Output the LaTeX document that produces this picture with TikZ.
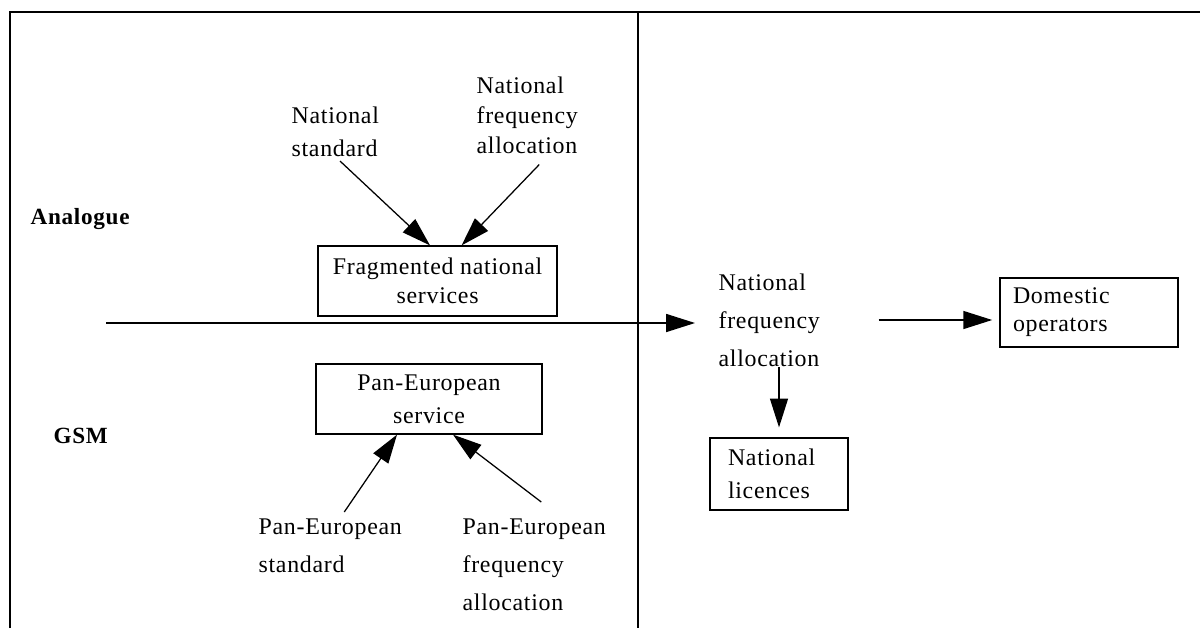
\documentclass[tikz,border=0pt]{standalone}
\usepackage{fontspec}
\setmainfont{Liberation Serif}[LetterSpace=3]
\usepackage{tikz}
\usetikzlibrary{positioning, calc, arrows.meta}

\begin{document}
\begin{tikzpicture}[>={Triangle[length=0.72cm, width=0.45cm]}, line width=0.9pt,
    box/.style={draw, inner sep=0pt, align=center, font=\fontsize{17}{21}\selectfont},
    txt/.style={anchor=north west, inner sep=0pt, align=left},
    head/.style={anchor=north west, inner sep=0pt, font=\fontsize{16.5}{18}\selectfont\bfseries}]
    \useasboundingbox (0,0) rectangle (30,-15.7);

    % Frame and divider
    \draw (0.25,-15.7) -- (0.25,-0.3) -- (30,-0.3);
    \draw (15.95,-0.3) -- (15.95,-15.7);

    % Row headings
    \node[head] (A) at (0.75,-5.2) {Analogue};
    \node[head] (G) at (1.325,-10.7) {GSM};

    % Analogue inputs
    \node[txt, font=\fontsize{17}{23.5}\selectfont] (nS) at (7.275,-2.65) {National\\standard};
    \node[txt, font=\fontsize{17}{21.5}\selectfont] (nF) at (11.9,-1.9) {National\\frequency\\allocation};

    % Fragmented national services Box
    \node[box, minimum width=5.975cm, minimum height=1.75cm] (F) at (10.94,-7.025) {Fragmented national\\services};

    % Pan-European service Box
    \node[box, minimum width=5.65cm, minimum height=1.75cm, font=\fontsize{17}{23.5}\selectfont] (P) at (10.725,-9.975) {Pan-European\\service};

    % GSM inputs
    \node[txt, font=\fontsize{17}{27.5}\selectfont] (pS) at (6.45,-12.95) {Pan-European\\standard};
    \node[txt, font=\fontsize{17}{27}\selectfont] (pF) at (11.55,-12.95) {Pan-European\\frequency\\allocation};

    % Right side
    \coordinate (in) at (2.65,-8.075);
    \node[txt, font=\fontsize{17}{27}\selectfont] (nM) at (17.95,-6.825) {National\\frequency\\allocation};
    \node[box, minimum width=4.45cm, minimum height=1.725cm, text width=3.8cm, inner xsep=0.325cm, align=left, font=\fontsize{17}{20}\selectfont] (D) at (27.225,-7.81) {Domestic\\operators};
    \node[box, minimum width=3.45cm, minimum height=1.8cm, text width=2.55cm, inner xsep=0.45cm, align=left, font=\fontsize{17}{23.5}\selectfont] (L) at (19.475,-11.85) {National\\licences};

    \draw[->] ([xshift=0.12cm, yshift=-0.1cm]nS.south) -- ([xshift=-0.19cm]F.north);
    \draw[->] ([xshift=0.3cm, yshift=-0.25cm]nF.south) -- ([xshift=0.6cm]F.north);
    \draw[->, shorten >=0.575cm] (in) -- (in -| nM.west);
    \draw[->, shorten <=1.45cm, shorten >=0.18cm] (nM.east) -- (nM.east -| D.west);
    \draw[->, shorten >=0.25cm] (nM.south -| L.north) -- (L.north);
    \draw[->] ([xshift=0.35cm, yshift=0.15cm]pS.north) -- ([xshift=-0.8cm]P.south);
    \draw[->] ([xshift=0.175cm, yshift=0.4cm]pF.north) -- ([xshift=0.6cm]P.south);
\end{tikzpicture}
\end{document}
